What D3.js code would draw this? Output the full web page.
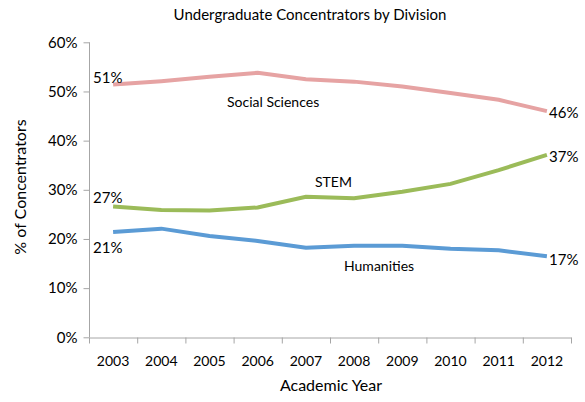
<!DOCTYPE html>
<html><head><meta charset="utf-8">
<script src="https://cdn.jsdelivr.net/npm/d3@7"></script>
<style>body{margin:0;background:#fff}svg{display:block}text{font-family:Lato,"Open Sans",sans-serif;fill:#000}</style>
</head><body><svg id="c" width="585" height="402"></svg>
<script>
const years = ["2003","2004","2005","2006","2007","2008","2009","2010","2011","2012"];
const socialSciences = [51.4,52.1,53.0,53.8,52.5,52.0,51.0,49.7,48.3,46.0];
const stem = [26.6,25.9,25.8,26.4,28.6,28.3,29.6,31.2,34.0,37.1];
const humanities = [21.4,22.1,20.6,19.6,18.2,18.6,18.6,18.0,17.7,16.5];
const yTicks = [0,10,20,30,40,50,60];
const firstLabels = ["51%","27%","21%"];
const lastLabels = ["46%","37%","17%"];

const svg = d3.select("#c");
const x = d3.scaleBand().domain(years).range([89,571]);
const y = d3.scaleLinear().domain([0,60]).range([337.3,42.3]);
const cx = d => x(d) + x.bandwidth()/2;

const yAxis = svg.append("g").attr("transform","translate(89.5,0)")
  .call(d3.axisLeft(y).tickValues(yTicks).tickFormat(d=>d+"%").tickSize(6).tickPadding(6));
const xAxis = svg.append("g").attr("transform","translate(0,337.5)")
  .call(d3.axisBottom(x).tickValues([]).tickSizeOuter(0));
[yAxis,xAxis].forEach(a=>{a.select(".domain").attr("stroke","#a6a6a6");a.selectAll("line").attr("stroke","#a6a6a6");});
yAxis.select(".domain").attr("d","M0,42.3V337.3");
yAxis.selectAll("text").attr("font-size","15px").attr("font-family","Lato");
const edges = years.map(d=>x(d)).concat([x.range()[1]]);
xAxis.selectAll(".edge").data(edges).enter().append("line")
  .attr("x1",d=>d+0.5).attr("x2",d=>d+0.5).attr("y1",0).attr("y2",6).attr("stroke","#a6a6a6");
xAxis.selectAll(".lab").data(years).enter().append("text")
  .attr("x",d=>cx(d)).attr("y",28).attr("text-anchor","middle").attr("font-size","14px").text(d=>d);

const line = d3.line().x((d,i)=>cx(years[i])).y(d=>y(d));
const series = [
  {v:socialSciences,c:"#e6a3a3",name:"Social Sciences",nx:227,ny:107},
  {v:stem,c:"#9bbb59",name:"STEM",nx:315,ny:187},
  {v:humanities,c:"#5b9bd5",name:"Humanities",nx:344,ny:271}
];
series.forEach(s=>{
  svg.append("path").datum(s.v).attr("d",line).attr("fill","none").attr("stroke",s.c).attr("stroke-width",4);
  svg.append("text").attr("x",s.nx).attr("y",s.ny).attr("font-size","14px").text(s.name);
});
[83,203,253].forEach((yy,i)=>svg.append("text").attr("x",93).attr("y",yy).attr("font-size","15px").text(firstLabels[i]));
[118,162,265].forEach((yy,i)=>svg.append("text").attr("x",549).attr("y",yy).attr("font-size","15px").text(lastLabels[i]));

svg.append("text").attr("x",310).attr("y",20).attr("text-anchor","middle").attr("font-size","15px").text("Undergraduate Concentrators by Division");
svg.append("text").attr("x",331).attr("y",391).attr("text-anchor","middle").attr("font-size","16px").text("Academic Year");
svg.append("text").attr("transform","translate(26,187) rotate(-90)").attr("text-anchor","middle").attr("font-size","16px").text("% of Concentrators");
</script></body></html>
